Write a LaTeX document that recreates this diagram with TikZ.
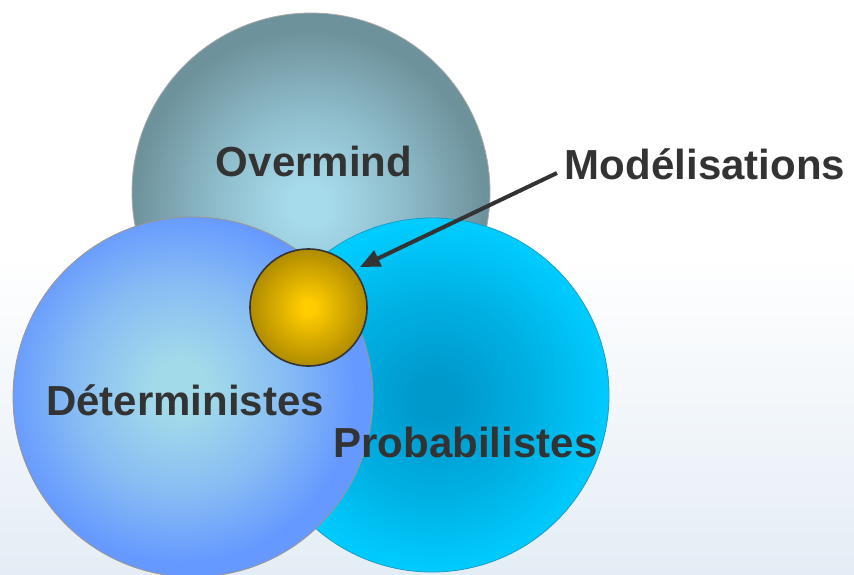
\documentclass[tikz,border=0pt]{standalone}
\usepackage{fontspec}
\setmainfont{Liberation Sans}
\usetikzlibrary{arrows.meta}
\definecolor{txt}{HTML}{333333}
\definecolor{bgb}{HTML}{E4EDF5}
\definecolor{omin}{HTML}{A6DBEC}
\definecolor{omout}{HTML}{6E929C}
\definecolor{omline}{HTML}{A8A8A8}
\definecolor{dtin}{HTML}{A2DAEA}
\definecolor{dtout}{HTML}{6699FF}
\definecolor{dtline}{HTML}{A0968C}
\definecolor{prin}{HTML}{0099CC}
\definecolor{prout}{HTML}{00CCFF}
\definecolor{prline}{HTML}{1A9CC8}
\definecolor{gdin}{HTML}{FFCC00}
\definecolor{gdout}{HTML}{B08C00}
\colorlet{ommid}{omin!55!omout}
\colorlet{dtmid}{dtin!55!dtout}
\colorlet{prmid}{prin!55!prout}
\colorlet{gdmid}{gdin!50!gdout}
\pgfdeclareverticalshading{bgshade}{100bp}{color(0bp)=(bgb); color(25bp)=(bgb); color(53bp)=(white); color(75bp)=(white); color(100bp)=(white)}
\pgfdeclareradialshading{omshade}{\pgfpoint{0bp}{0bp}}{color(0bp)=(omin); color(3bp)=(omin); color(14bp)=(ommid); color(25bp)=(omout); color(50bp)=(omout)}
\pgfdeclareradialshading{dtshade}{\pgfpoint{0bp}{0bp}}{color(0bp)=(dtin); color(4bp)=(dtin); color(15bp)=(dtmid); color(25bp)=(dtout); color(50bp)=(dtout)}
\pgfdeclareradialshading{prshade}{\pgfpoint{0bp}{0bp}}{color(0bp)=(prin); color(3bp)=(prin); color(14bp)=(prmid); color(25bp)=(prout); color(50bp)=(prout)}
\pgfdeclareradialshading{gdshade}{\pgfpoint{0bp}{0bp}}{color(0bp)=(gdin); color(3bp)=(gdin); color(14bp)=(gdmid); color(25bp)=(gdout); color(50bp)=(gdout)}
\begin{document}
\begin{tikzpicture}[x=1pt,y=-1pt,
  lbl/.style={font=\fontsize{42}{50}\selectfont\bfseries, text=txt, inner sep=0pt, anchor=base},
  arr/.style={draw=txt, line width=4pt, -{Triangle[length=20pt,width=17pt]}}]
\useasboundingbox (0,0) rectangle (854,574);
\shade[shading=bgshade] (0,0) rectangle (854,574);
% Overmind circle
\begin{scope}
  \clip (311,192) circle (179pt);
  \fill[omout] (311,192) circle (179pt);
  \shade[shading=omshade] (309,205) circle (175pt);
\end{scope}
\draw[omline, line width=0.8pt] (311,192) circle (179pt);
% Probabilistes circle
\begin{scope}
  \clip (432,395) circle (177pt);
  \fill[prout] (432,395) circle (177pt);
  \shade[shading=prshade] (436,398) circle (175pt);
\end{scope}
\draw[prline, line width=0.8pt] (432,395) circle (177pt);
% Deterministes circle
\begin{scope}
  \clip (193,397) circle (180pt);
  \fill[dtout] (193,397) circle (180pt);
  \shade[shading=dtshade] (180,388) circle (175pt);
\end{scope}
\draw[dtline, line width=0.8pt] (193,397) circle (180pt);
% Gold circle
\node[circle, minimum size=117pt, inner sep=0pt, draw=txt, line width=1.6pt,
      shading=gdshade] (gold) at (308.5,307.5) {};
% Labels
\node[lbl] (over) at (314,176) {Overmind};
\node[lbl] (det) at (185,415) {Déterministes};
\node[lbl] (prob) at (465.5,457) {Probabilistes};
\node[lbl] (model) at (705,179) {Modélisations};
% Arrow
\coordinate (astart) at (557,173);
\coordinate (tip) at (360,267);
\draw[arr] (astart) -- (tip);
\end{tikzpicture}
\end{document}
